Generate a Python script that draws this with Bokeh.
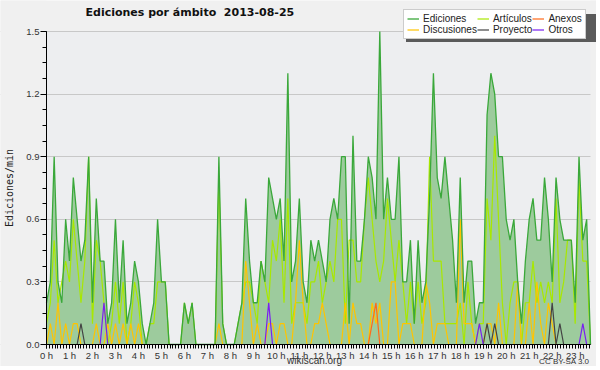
from bokeh.plotting import figure
from bokeh.models import (ColumnDataSource, Legend, LegendItem, SingleIntervalTicker,
                          PrintfTickFormatter, Label, BoxAnnotation)
from bokeh.embed import file_html
from bokeh.resources import INLINE

# ---- data: edits per minute, 10-minute buckets from 00:00 to 23:40 ----
ediciones = [0.2, 0.3, 0.9, 0.3, 0.2, 0.6, 0.4, 0.8, 0.6, 0.4, 0.5, 0.9, 0.2, 0.7, 0.4, 0.4, 0.1, 0.2, 0.6, 0.2,
             0.5, 0.1, 0.2, 0.4, 0.3, 0.1, 0.0, 0.1, 0.2, 0.6, 0.3, 0.3, 0.0, 0.0, 0.0, 0.0, 0.2, 0.1, 0.2, 0.0,
             0.0, 0.0, 0.0, 0.0, 0.0, 0.9, 0.1, 0.0, 0.0, 0.0, 0.1, 0.2, 0.7, 0.4, 0.2, 0.2, 0.4, 0.3, 0.8, 0.7,
             0.6, 0.7, 0.4, 1.3, 0.3, 0.4, 0.7, 0.3, 0.2, 0.5, 0.4, 0.5, 0.4, 0.3, 0.6, 0.7, 0.6, 0.9, 0.9, 0.1,
             1.0, 0.4, 0.4, 0.6, 0.9, 0.8, 0.6, 1.5, 0.6, 0.8, 0.6, 0.6, 0.9, 0.3, 0.3, 0.5, 0.1, 0.5, 0.2, 0.3,
             0.7, 1.3, 0.8, 0.7, 0.9, 0.7, 0.5, 0.2, 0.8, 0.2, 0.4, 0.4, 0.1, 0.2, 0.2, 1.1, 1.3, 1.2, 0.9, 0.9,
             0.6, 0.5, 0.6, 0.3, 0.1, 0.4, 0.6, 0.7, 0.5, 0.5, 0.8, 0.6, 0.3, 0.8, 0.6, 0.5, 0.5, 0.5, 0.2, 0.9,
             0.5, 0.6, 0.0]
articulos = [0.1, 0.2, 0.5, 0.2, 0.3, 0.4, 0.3, 0.6, 0.4, 0.2, 0.4, 0.9, 0.1, 0.5, 0.4, 0.2, 0.0, 0.1, 0.3, 0.1,
             0.3, 0.0, 0.1, 0.3, 0.2, 0.0, 0.0, 0.1, 0.1, 0.3, 0.3, 0.3, 0.0, 0.0, 0.0, 0.0, 0.2, 0.1, 0.2, 0.0,
             0.0, 0.0, 0.0, 0.0, 0.0, 0.8, 0.1, 0.0, 0.0, 0.0, 0.1, 0.2, 0.3, 0.3, 0.2, 0.1, 0.4, 0.3, 0.2, 0.5,
             0.4, 0.6, 0.2, 0.7, 0.1, 0.2, 0.2, 0.2, 0.1, 0.3, 0.3, 0.4, 0.2, 0.3, 0.4, 0.3, 0.6, 0.6, 0.1, 0.5,
             0.5, 0.3, 0.3, 0.6, 0.8, 0.6, 0.4, 0.3, 0.4, 0.7, 0.5, 0.3, 0.5, 0.3, 0.1, 0.3, 0.1, 0.3, 0.1, 0.2,
             0.9, 0.4, 0.4, 0.4, 0.1, 0.1, 0.1, 0.1, 0.2, 0.0, 0.3, 0.1, 0.0, 0.1, 0.1, 0.7, 0.5, 1.0, 0.6, 0.2,
             0.0, 0.2, 0.3, 0.3, 0.0, 0.2, 0.2, 0.4, 0.2, 0.3, 0.2, 0.3, 0.2, 0.7, 0.2, 0.3, 0.5, 0.5, 0.1, 0.8,
             0.4, 0.4, 0.0]
discusiones = [0.0, 0.1, 0.0, 0.2, 0.0, 0.1, 0.0, 0.1, 0.1, 0.0, 0.0, 0.0, 0.0, 0.1, 0.0, 0.0, 0.1, 0.0, 0.1, 0.0,
               0.1, 0.0, 0.1, 0.0, 0.1, 0.0, 0.0, 0.0, 0.0, 0.0, 0.0, 0.0, 0.0, 0.0, 0.0, 0.0, 0.0, 0.0, 0.0, 0.0,
               0.0, 0.0, 0.0, 0.0, 0.0, 0.1, 0.0, 0.0, 0.0, 0.0, 0.0, 0.0, 0.4, 0.2, 0.0, 0.1, 0.0, 0.0, 0.1, 0.1,
               0.0, 0.1, 0.1, 0.0, 0.0, 0.2, 0.5, 0.2, 0.0, 0.0, 0.1, 0.1, 0.2, 0.1, 0.0, 0.0, 0.0, 0.0, 0.2, 0.0,
               0.2, 0.1, 0.1, 0.0, 0.0, 0.2, 0.1, 0.2, 0.0, 0.0, 0.3, 0.3, 0.0, 0.1, 0.1, 0.1, 0.0, 0.0, 0.0, 0.3,
               0.2, 0.0, 0.1, 0.1, 0.1, 0.0, 0.0, 0.0, 0.6, 0.1, 0.1, 0.1, 0.0, 0.0, 0.0, 0.1, 0.1, 0.0, 0.2, 0.0,
               0.0, 0.0, 0.0, 0.3, 0.0, 0.0, 0.2, 0.0, 0.3, 0.1, 0.0, 0.2, 0.1, 0.0, 0.0, 0.0, 0.0, 0.0, 0.0, 0.0,
               0.0, 0.0, 0.0]
anexos = [0.0] * 85 + [0.1, 0.2] + [0.0] * 56
proyecto = ([0.0] * 9 + [0.1] + [0.0] * 105 + [0.1, 0.0, 0.1] + [0.0] * 14 + [0.2, 0.0, 0.1] + [0.0] * 8)
otros = ([0.0] * 15 + [0.2] + [0.0] * 42 + [0.2] + [0.0] * 54 + [0.1] + [0.0] * 26 + [0.1] + [0.0] * 2)
hours = [i / 6 for i in range(len(ediciones))]
hour_ticks_fmt = "%d h"
y_max = 1.5
# legend order: column-major in a 3-column, 2-row legend
legend_labels = ["Ediciones", "Discusiones", "Artículos", "Proyecto", "Anexos", "Otros"]

src = ColumnDataSource(dict(x=hours, ed=ediciones, art=articulos, dis=discusiones,
                            anx=anexos, pro=proyecto, otr=otros, zero=[0.0] * len(hours)))

# The frame fills the whole canvas; both axes sit inside it at x=0 / y=0, so the
# margins (title, legend, tick labels, footer) live inside the frame's padding.
CW, CH = 596, 366        # canvas = frame size in px
PX_LEFT, PX_RIGHT = 46, 590   # px positions of x = 0 and x = last sample
PX_TOP, PX_ZERO = 31, 344     # px positions (from top) of y = y_max and y = 0
x_scale = (PX_RIGHT - PX_LEFT) / hours[-1]
y_scale = (PX_ZERO - PX_TOP) / y_max
x_start = -PX_LEFT / x_scale
x_end = hours[-1] + (CW - PX_RIGHT) / x_scale
y_start = -(CH - PX_ZERO) / y_scale
y_end = y_max + PX_TOP / y_scale

BG = "#F0F0F0"
p = figure(frame_width=CW, frame_height=CH, output_backend="svg", toolbar_location=None,
           x_range=(x_start, x_end), y_range=(y_start, y_end),
           background_fill_color=BG, border_fill_color=BG,
           min_border_left=0, min_border_right=0, min_border_top=0, min_border_bottom=0)
p.outline_line_color = None
try:
    p.title = None
except Exception:
    p.title.visible = False

# plot area background (only the data rectangle)
p.add_layout(BoxAnnotation(left=0, right=hours[-1], bottom=0, top=y_max, fill_color="#EDEEF0",
                           fill_alpha=1.0, line_color=None, level="image"))

fill = p.varea(x="x", y1="zero", y2="ed", source=src, fill_color="#9DCB9D", fill_alpha=1.0)
r_art = p.line("x", "art", source=src, line_color="#A8E800", line_width=1.2)
r_dis = p.line("x", "dis", source=src, line_color="#FFC400", line_width=1.2)
r_anx = p.line("x", "anx", source=src, line_color="#FF6A1A", line_width=1.2)
r_pro = p.line("x", "pro", source=src, line_color="#444444", line_width=1.2)
r_otr = p.line("x", "otr", source=src, line_color="#7A1FF0", line_width=1.2)
r_ed = p.line("x", "ed", source=src, line_color="#3AA83A", line_width=1.3)
r_none = p.line(x=[0, 0], y=[0, 0], line_alpha=0)

# grid only inside the data rectangle: mask the margins drawn after the grid
p.xgrid.grid_line_color = None
p.ygrid.grid_line_color = "#C8C8C8"
p.add_layout(BoxAnnotation(right=0, fill_color=BG, fill_alpha=1.0, line_color=None, level="underlay"))
p.add_layout(BoxAnnotation(left=hours[-1], fill_color=BG, fill_alpha=1.0, line_color=None,
                           level="underlay"))

# axes
p.xaxis.ticker = SingleIntervalTicker(interval=1, num_minor_ticks=8)
p.xaxis.formatter = PrintfTickFormatter(format=hour_ticks_fmt)
p.xaxis.fixed_location = 0
p.xaxis.bounds = (0, hours[-1])
p.yaxis.ticker = SingleIntervalTicker(interval=0.3, num_minor_ticks=4)
p.yaxis.formatter = PrintfTickFormatter(format="%.1f")
p.yaxis.fixed_location = 0
p.yaxis.bounds = (0, y_max)
for ax in (p.xaxis, p.yaxis):
    ax.axis_line_color = "black"
    ax.major_tick_line_color = "black"
    ax.minor_tick_line_color = "black"
    ax.major_tick_in = 0
    ax.minor_tick_in = 0
    ax.major_label_text_font = "Liberation Sans"
    ax.major_label_text_font_size = "9.5px"
    ax.major_label_text_color = "#333333"
    ax.major_label_standoff = 1
p.xaxis.major_tick_out = 4
p.xaxis.minor_tick_out = 4
p.yaxis.major_tick_out = 6
p.yaxis.minor_tick_out = 4
p.yaxis.axis_label = "Ediciones/min"
p.yaxis.axis_label_text_font = "DejaVu Sans Mono"
p.yaxis.axis_label_text_font_size = "10px"
p.yaxis.axis_label_text_font_style = "normal"
p.yaxis.axis_label_text_color = "#222222"
p.yaxis.axis_label_standoff = 8

# chart title; screen y measured up from the canvas bottom
p.add_layout(Label(x=85, y=CH - 12, x_units="screen", y_units="screen",
                   text="Ediciones por ámbito\u00a0\u00a02013-08-25",
                   text_font="DejaVu Sans", text_font_size="11px", text_font_style="bold",
                   text_color="#111111", text_baseline="alphabetic"))

# legend shadow + legend
LX, LY, LW, LH = 403, CH - 39, 188, 28
shadow = Legend(items=[LegendItem(label=" ", renderers=[r_none])],
                location=(LX + 3, LY - 3), glyph_width=LW - 1, glyph_height=LH,
                label_text_font_size="1px", label_height=1, label_standoff=0,
                padding=0, margin=0, spacing=0,
                background_fill_color="#5A5A5A", background_fill_alpha=1.0,
                border_line_color=None)
p.add_layout(shadow)

rend = [r_ed, r_dis, r_art, r_pro, r_anx, r_otr]
legend = Legend(items=[LegendItem(label=l, renderers=[r]) for l, r in zip(legend_labels, rend)],
                ncols=3, location=(LX, LY),
                background_fill_color="white", background_fill_alpha=1.0,
                border_line_color="#999999", label_text_font="Liberation Sans",
                label_text_font_size="10px", label_height=11, label_standoff=4,
                glyph_width=12, glyph_height=11, spacing=0, padding=3, margin=0,
                label_text_color="#222222")
p.add_layout(legend)

# footer texts
p.add_layout(Label(x=314, y=CH - 360, x_units="screen", y_units="screen", text="wikiscan.org",
                   text_font="Liberation Sans", text_font_size="10px", text_align="center",
                   text_baseline="middle", text_color="#333333"))
p.add_layout(Label(x=589, y=CH - 361, x_units="screen", y_units="screen", text="CC BY-SA 3.0",
                   text_font="Liberation Sans", text_font_size="8px", text_align="right",
                   text_baseline="middle", text_color="#333333"))

open("out.html", "w").write(file_html(p, INLINE))
